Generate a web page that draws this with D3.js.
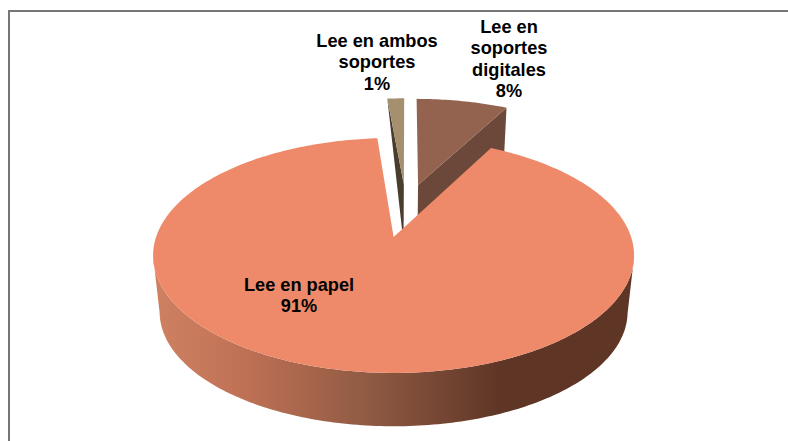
<!DOCTYPE html>
<html>
<head>
<meta charset="utf-8">
<script src="https://cdn.jsdelivr.net/npm/d3@7"></script>
<style>
  html, body { margin: 0; padding: 0; background: #fff; }
  svg { display: block; }
  text { font-family: "Liberation Sans", Arial, sans-serif; font-weight: bold; font-size: 18.2px; fill: #000; }
</style>
</head>
<body>
<div id="chart"></div>
<script>
// data (labels show it rounded)
const categories = ['Lee en soportes digitales', 'Lee en papel', 'Lee en ambos soportes'];
const values = [7.6, 91.0, 1.4];
const labelLines = [['Lee en', 'soportes', 'digitales'], ['Lee en papel'], ['Lee en ambos', 'soportes']];

const width = 788, height = 441;
const toRad = Math.PI / 180;

// pie layout, slices run clockwise from the top
const pie = d3.pie().sort(null).value(d => d).startAngle(0.5 * toRad).endAngle(360.5 * toRad);
const arcs = pie(values);

// slice styles, same order as categories
const topColor = ['#93634f', '#ee8a6a', '#a58f6e'];
const wallColor = ['#6b4839', null, '#4a3d2d'];
const explode = [0.23, 0.27, 0.23];
const labelPos = [[509, 33], [299, 291], [377, 47]];

// perspective of the disc
const origin = { x: 393.5, y: 237 };
const center = { u: 0.055, v: -0.265 };
const R = 237.5, S = 114.6, p = 0.1575;
const depth = 57, bottomScale = 0.973;

const project = (u, v, low) => {
    const w = 1 - p * v;
    const k = low ? bottomScale : 1;
    return [origin.x + k * R * u / w, origin.y + (low ? depth : 0) + k * S * v / w];
};

const svg = d3.select('#chart').append('svg')
    .attr('width', width)
    .attr('height', height);

// chart border, only top and left are in the frame
svg.append('path')
    .attr('d', `M9,${height}V11H${width}`)
    .attr('fill', 'none')
    .attr('stroke', '#767676')
    .attr('stroke-width', 2);

const defs = svg.append('defs');
const grad = defs.append('linearGradient')
    .attr('id', 'wall-gradient')
    .attr('gradientUnits', 'userSpaceOnUse')
    .attr('x1', 153).attr('x2', 634).attr('y1', 0).attr('y2', 0);
[[0, '#cf8262'], [0.2, '#bd7054'], [0.45, '#8f5a43'], [0.72, '#5f3626'], [1, '#5f3526']].forEach(s => {
    grad.append('stop').attr('offset', s[0]).attr('stop-color', s[1]);
});

const line = d3.line();

const slices = arcs.map((d, i) => {
    const mid = (d.startAngle + d.endAngle) / 2;
    const apex = {
        u: center.u + explode[i] * Math.sin(mid),
        v: center.v - explode[i] * Math.cos(mid)
    };
    const rim = (a, low) => project(apex.u + Math.sin(a), apex.v - Math.cos(a), low);
    const steps = d3.range(0, 1.0001, 1 / Math.max(4, Math.ceil((d.endAngle - d.startAngle) / toRad)));
    const angles = steps.map(t => d.startAngle + t * (d.endAngle - d.startAngle));
    return { d, i, apex, rim, angles };
});

const main = slices[1], digital = slices[0], both = slices[2];

// back slices first, the big one is in front of them
const apexTop = s => project(s.apex.u, s.apex.v, false);
const apexLow = s => project(s.apex.u, s.apex.v, true);

svg.append('path')
    .attr('d', line([digital.rim(digital.d.endAngle, false), digital.rim(digital.d.endAngle, true), apexLow(digital), apexTop(digital)]) + 'Z')
    .attr('fill', wallColor[0]);
svg.append('path')
    .attr('d', line([apexTop(digital)].concat(digital.angles.map(a => digital.rim(a, false)))) + 'Z')
    .attr('fill', topColor[0]);

svg.append('path')
    .attr('d', line([both.rim(both.d.startAngle, false), apexTop(both), apexLow(both)]) + 'Z')
    .attr('fill', wallColor[2]);
svg.append('path')
    .attr('d', line([apexTop(both)].concat(both.angles.map(a => both.rim(a, false)))) + 'Z')
    .attr('fill', topColor[2]);

// outer wall of the big slice, only the part facing the viewer
const front = main.angles.filter(a => main.apex.v - Math.cos(a) >= p);
svg.append('path')
    .attr('d', line(front.map(a => main.rim(a, false)).concat(front.slice().reverse().map(a => main.rim(a, true)))) + 'Z')
    .attr('fill', 'url(#wall-gradient)');

svg.append('path')
    .attr('d', line([apexTop(main)].concat(main.angles.map(a => main.rim(a, false)))) + 'Z')
    .attr('fill', topColor[1]);

// labels
categories.forEach((c, i) => {
    const lines = labelLines[i].concat([Math.round(values[i]) + '%']);
    const t = svg.append('text')
        .attr('text-anchor', 'middle')
        .attr('x', labelPos[i][0])
        .attr('y', labelPos[i][1]);
    lines.forEach((l, j) => {
        t.append('tspan')
            .attr('x', labelPos[i][0])
            .attr('dy', j === 0 ? 0 : 21.3)
            .text(l);
    });
});
</script>
</body>
</html>
